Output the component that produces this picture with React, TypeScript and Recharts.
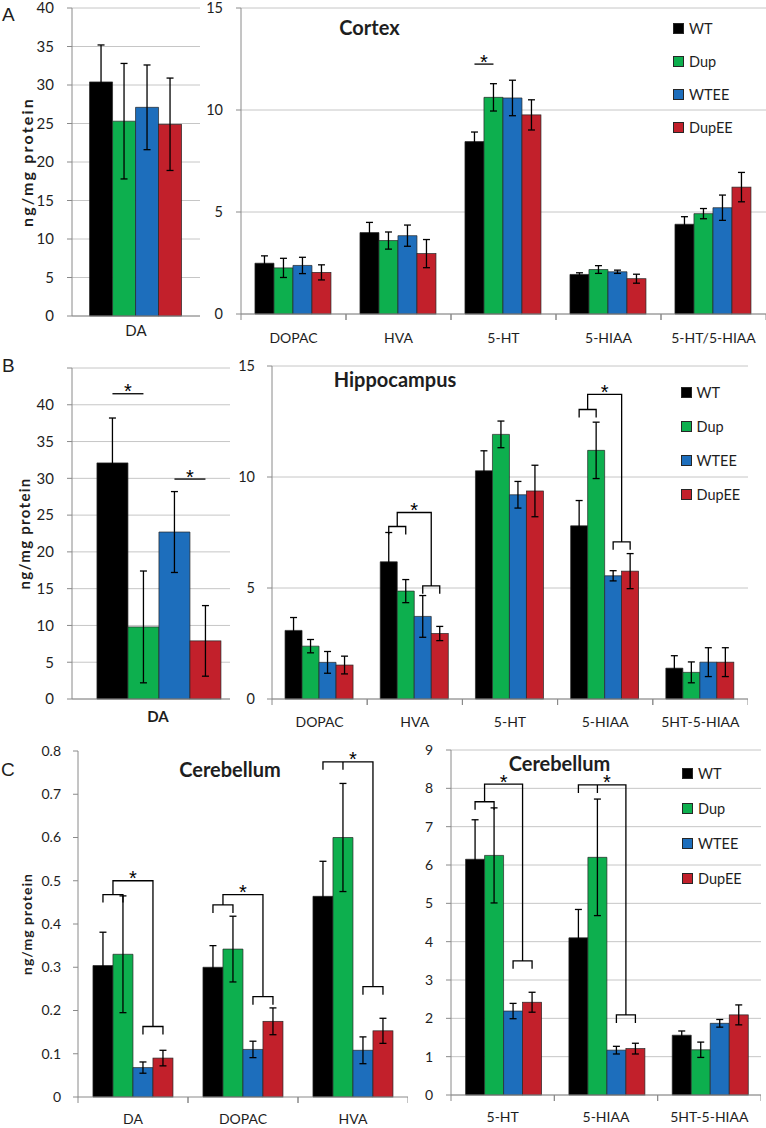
import React from "react";
import { BarChart, Bar, XAxis, YAxis, CartesianGrid, ErrorBar, Legend } from "recharts";

/* ---------------- series ---------------- */

const seriesNames = ["WT", "Dup", "WTEE", "DupEE"];
const seriesColors = ["#000000", "#0DAF4E", "#1D6EBC", "#C2202B"];

/* ---------------- A: cortex ---------------- */

const cortexDaCats = ["DA"];
const cortexDaMeans = [[30.4], [25.3], [27.1], [24.9]];
const cortexDaErrs = [[4.8], [7.5], [5.5], [6.0]];

const cortexCats = ["DOPAC", "HVA", "5-HT", "5-HIAA", "5-HT/5-HIAA"];
const cortexMeans = [
  [2.49, 3.99, 8.45, 1.94, 4.4],
  [2.26, 3.6, 10.62, 2.18, 4.92],
  [2.38, 3.84, 10.59, 2.07, 5.21],
  [2.04, 2.96, 9.76, 1.73, 6.22],
];
const cortexErrs = [
  [0.36, 0.5, 0.47, 0.08, 0.37],
  [0.47, 0.42, 0.67, 0.19, 0.25],
  [0.4, 0.52, 0.87, 0.08, 0.62],
  [0.37, 0.69, 0.74, 0.22, 0.72],
];
const cortexLines = [{ cat: "5-HT", from: 0, to: 1, y: 12.25 }];

/* ---------------- B: hippocampus ---------------- */

const hippoDaCats = ["DA"];
const hippoDaMeans = [[32.1], [9.8], [22.7], [7.9]];
const hippoDaErrs = [[6.1], [7.6], [5.5], [4.8]];
const hippoDaLines = [
  { cat: "DA", from: 0, to: 1, y: 41.5 },
  { cat: "DA", from: 2, to: 3, y: 29.9 },
];

const hippoCats = ["DOPAC", "HVA", "5-HT", "5-HIAA", "5HT-5-HIAA"];
const hippoMeans = [
  [3.09, 6.18, 10.28, 7.8, 1.39],
  [2.38, 4.86, 11.92, 11.2, 1.2],
  [1.65, 3.72, 9.2, 5.55, 1.66],
  [1.53, 2.95, 9.37, 5.76, 1.66],
];
const hippoErrs = [
  [0.58, 1.32, 0.9, 1.14, 0.56],
  [0.3, 0.52, 0.6, 1.27, 0.47],
  [0.49, 0.94, 0.6, 0.23, 0.65],
  [0.4, 0.32, 1.16, 0.79, 0.65],
];
const hippoBrackets = [
  { cat: "HVA", left: 7.77, top: 8.4, right: 5.1 },
  { cat: "5-HIAA", left: 13.04, top: 13.72, right: 7.08 },
];

/* ---------------- C: cerebellum ---------------- */

const cereCatsA = ["DA", "DOPAC", "HVA"];
const cereMeansA = [
  [0.304, 0.3, 0.464],
  [0.33, 0.342, 0.6],
  [0.068, 0.11, 0.108],
  [0.09, 0.175, 0.153],
];
const cereErrsA = [
  [0.077, 0.05, 0.081],
  [0.135, 0.076, 0.125],
  [0.013, 0.019, 0.031],
  [0.018, 0.031, 0.029],
];
const cereBracketsA = [
  { cat: "DA", left: 0.468, top: 0.5, right: 0.163 },
  { cat: "DOPAC", left: 0.444, top: 0.468, right: 0.232 },
  { cat: "HVA", left: 0.775, top: 0.775, right: 0.255 },
];

const cereCatsB = ["5-HT", "5-HIAA", "5HT-5-HIAA"];
const cereMeansB = [
  [6.15, 4.1, 1.56],
  [6.25, 6.2, 1.18],
  [2.19, 1.17, 1.87],
  [2.42, 1.21, 2.09],
];
const cereErrsB = [
  [1.03, 0.74, 0.11],
  [1.24, 1.52, 0.2],
  [0.2, 0.1, 0.1],
  [0.26, 0.14, 0.26],
];
const cereBracketsB = [
  { cat: "5-HT", left: 7.65, top: 8.11, right: 3.5 },
  { cat: "5-HIAA", left: 8.09, top: 8.09, right: 2.09 },
];

/* ---------------- tick lists ---------------- */

const ticks40 = [0, 5, 10, 15, 20, 25, 30, 35, 40];
const ticks45 = [0, 5, 10, 15, 20, 25, 30, 35, 40, 45];
const ticks15 = [0, 5, 10, 15];
const ticks08 = [0, 0.1, 0.2, 0.3, 0.4, 0.5, 0.6, 0.7, 0.8];
const ticks9 = [0, 1, 2, 3, 4, 5, 6, 7, 8, 9];

/* ---------------- styling ---------------- */

const FONT = "Lato, 'Open Sans', sans-serif";
const STAR_FONT = "'Liberation Sans', Arial, sans-serif";
const AXIS = "#8A8A8A";
const GRID = "#C6C6C6";
const TXT = "#1E1E1E";
const EDGE = "#262626";
const TICK_DROP = 8;

type Bracket = { cat: string; left: number; top: number; right: number };
type SigLine = { cat: string; from: number; to: number; y: number };

const buildRows = (cats: string[], means: number[][], errs: number[][]) =>
  cats.map((cat, i) => {
    const row: Record<string, any> = { cat };
    means.forEach((m, s) => {
      row[`s${s}`] = m[i];
      row[`e${s}`] = errs[s][i];
    });
    return row;
  });

const Star = ({ x, y }: { x: number; y: number }) => (
  <text x={x} y={y + 4.5} textAnchor="middle" fontSize={20} fontFamily={STAR_FONT} fill="#000" stroke="none">
    *
  </text>
);

// last series draws its own bar plus the significance marks of its category
const makeShape = (brackets: Bracket[] = [], lines: SigLine[] = []) => (props: any) => {
  const { x, y, width, height, fill, payload } = props;
  const v = payload.s3;
  const base = y + height;
  const k = height / v;
  const py = (val: number) => base - val * k;
  const cx = (i: number) => x - (3 - i) * width + width / 2;
  const marks: React.ReactNode[] = [];

  lines
    .filter((l) => l.cat === payload.cat)
    .forEach((l, j) => {
      const yy = py(l.y);
      const x1 = cx(l.from);
      const x2 = cx(l.to);
      marks.push(
        <g key={`l${j}`}>
          <line x1={x1} x2={x2} y1={yy} y2={yy} stroke="#000" strokeWidth={1.3} />
          <Star x={(x1 + x2) / 2} y={yy} />
        </g>
      );
    });

  brackets
    .filter((b) => b.cat === payload.cat)
    .forEach((b, j) => {
      const yl = py(b.left);
      const yr = py(b.right);
      const yt = py(b.top);
      const lm = (cx(0) + cx(1)) / 2;
      const rm = (cx(2) + cx(3)) / 2;
      const d = [
        `M${cx(0)},${yl + TICK_DROP} L${cx(0)},${yl} L${cx(1)},${yl} L${cx(1)},${yl + TICK_DROP}`,
        `M${cx(2)},${yr + TICK_DROP} L${cx(2)},${yr} L${cx(3)},${yr} L${cx(3)},${yr + TICK_DROP}`,
        `M${lm},${yl} L${lm},${yt} L${rm},${yt} L${rm},${yr}`,
      ].join(" ");
      marks.push(
        <g key={`b${j}`}>
          <path d={d} fill="none" stroke="#000" strokeWidth={1.3} />
          <Star x={(lm + rm) / 2} y={yt} />
        </g>
      );
    });

  return (
    <g>
      <rect x={x} y={y} width={width} height={height} fill={fill} stroke={EDGE} strokeWidth={0.7} />
      {marks}
    </g>
  );
};

const CatTick = (props: any) => {
  const { x, y, payload, tm, band, boundary, size, weight } = props;
  const ay = y - tm;
  return (
    <g>
      {boundary && (
        <>
          <line x1={x - band / 2} x2={x - band / 2} y1={ay} y2={ay + 6} stroke={AXIS} />
          <line x1={x + band / 2} x2={x + band / 2} y1={ay} y2={ay + 6} stroke={AXIS} />
        </>
      )}
      <text x={x} y={y} dy="0.71em" textAnchor="middle" fontSize={size} fontWeight={weight} fill={TXT}>
        {payload.value}
      </text>
    </g>
  );
};

const LegendBox = ({ row }: { row: number }) => (
  <div style={{ fontFamily: FONT, fontSize: 14.5, color: TXT }}>
    {seriesNames.map((n, i) => (
      <div key={n} style={{ display: "flex", alignItems: "center", height: row }}>
        <span
          style={{
            width: 9,
            height: 9,
            background: seriesColors[i],
            border: `1px solid ${EDGE}`,
            marginRight: 5,
          }}
        />
        <span>{n}</span>
      </div>
    ))}
  </div>
);

interface PanelProps {
  left: number;
  top: number;
  width: number;
  height: number;
  marginTop: number;
  yWidth: number;
  xHeight: number;
  cats: string[];
  means: number[][];
  errs: number[][];
  domain: [number, number];
  ticks: number[];
  tickFmt?: (v: number) => string;
  grid: boolean;
  gap: string;
  padLeft?: number;
  yTickMargin: number;
  xTickMargin: number;
  catSize: number;
  catWeight?: string;
  yFont: number;
  boundary?: boolean;
  yLabel?: { offset: number; size: number; spacing: number };
  brackets?: Bracket[];
  lines?: SigLine[];
  legend?: { left: number; top: number; row: number };
}

const Panel: React.FC<PanelProps> = (p) => {
  const rows = buildRows(p.cats, p.means, p.errs);
  const band = (p.width - p.yWidth - (p.padLeft ?? 0)) / p.cats.length;
  const shape = makeShape(p.brackets, p.lines);
  return (
    <div style={{ position: "absolute", left: p.left, top: p.top }}>
      <BarChart
        width={p.width}
        height={p.height}
        data={rows}
        margin={{ top: p.marginTop, right: 0, bottom: 0, left: 0 }}
        barGap={0}
        barCategoryGap={p.gap}
      >
        {p.grid && <CartesianGrid vertical={false} stroke={GRID} />}
        <XAxis
          dataKey="cat"
          interval={0}
          height={p.xHeight}
          tickLine={false}
          tickSize={0}
          tickMargin={p.xTickMargin}
          axisLine={{ stroke: AXIS }}
          padding={{ left: p.padLeft ?? 0, right: 0 }}
          tick={
            <CatTick
              tm={p.xTickMargin}
              band={band}
              boundary={!!p.boundary}
              size={p.catSize}
              weight={p.catWeight ?? "normal"}
            />
          }
        />
        <YAxis
          width={p.yWidth}
          domain={p.domain}
          ticks={p.ticks}
          interval={0}
          tickSize={5}
          tickMargin={p.yTickMargin}
          tickLine={{ stroke: AXIS }}
          axisLine={{ stroke: AXIS }}
          tick={{ fill: TXT, fontSize: p.yFont, fontFamily: FONT }}
          tickFormatter={p.tickFmt}
          label={
            p.yLabel
              ? {
                  value: "ng/mg protein",
                  angle: -90,
                  position: "insideLeft",
                  offset: p.yLabel.offset,
                  style: {
                    textAnchor: "middle",
                    fontSize: p.yLabel.size,
                    fontWeight: 700,
                    letterSpacing: p.yLabel.spacing,
                    fill: TXT,
                    fontFamily: FONT,
                  },
                }
              : undefined
          }
        />
        {seriesNames.map((n, i) => (
          <Bar
            key={n}
            dataKey={`s${i}`}
            name={n}
            fill={seriesColors[i]}
            stroke={EDGE}
            strokeWidth={0.7}
            isAnimationActive={false}
            {...(i === 3 ? { shape } : {})}
          >
            <ErrorBar dataKey={`e${i}`} width={3.5} stroke="#000" strokeWidth={1.3} direction="y" />
          </Bar>
        ))}
        {p.legend && (
          <Legend
            layout="vertical"
            align="center"
            verticalAlign="middle"
            content={() => <LegendBox row={p.legend!.row} />}
            wrapperStyle={{ left: p.legend.left, top: p.legend.top, width: "auto" }}
          />
        )}
      </BarChart>
    </div>
  );
};

const Caption: React.FC<{ x: number; y: number; text: string; center?: boolean; size?: number; bold?: boolean; family?: string }> = ({
  x,
  y,
  text,
  center,
  size = 20,
  bold,
  family = FONT,
}) => (
  <div
    style={{
      position: "absolute",
      left: center ? x - 150 : x,
      top: y,
      width: center ? 300 : "auto",
      textAlign: center ? "center" : "left",
      fontFamily: family,
      fontSize: size,
      fontWeight: bold ? 700 : 400,
      lineHeight: 1,
      color: TXT,
      whiteSpace: "nowrap",
    }}
  >
    {text}
  </div>
);

const fmt08 = (v: number) => (v === 0 ? "0" : v.toFixed(1));
const fmt45 = (v: number) => (v === 45 ? "" : String(v));

export default function App() {
  return (
    <div
      style={{
        position: "absolute",
        left: 0,
        top: 0,
        width: 766,
        height: 1128,
        background: "#fff",
        fontFamily: FONT,
        overflow: "hidden",
      }}
    >
      {/* A */}
      <Panel
        left={0}
        top={-6}
        width={200}
        height={351}
        marginTop={14}
        yWidth={72}
        xHeight={29}
        cats={cortexDaCats}
        means={cortexDaMeans}
        errs={cortexDaErrs}
        domain={[0, 40]}
        ticks={ticks40}
        grid
        gap="13.7%"
        yTickMargin={13}
        xTickMargin={9}
        catSize={15}
        yFont={15}
        yLabel={{ offset: 27, size: 16, spacing: 2.2 }}
      />
      <Panel
        left={190}
        top={-6}
        width={576}
        height={356}
        marginTop={14}
        yWidth={51}
        xHeight={36}
        cats={cortexCats}
        means={cortexMeans}
        errs={cortexErrs}
        domain={[0, 15]}
        ticks={ticks15}
        grid
        gap="13.3%"
        yTickMargin={13}
        xTickMargin={19}
        catSize={14}
        yFont={14.5}
        boundary
        lines={cortexLines}
        legend={{ left: 483, top: 17.5, row: 33 }}
      />

      {/* B */}
      <Panel
        left={0}
        top={354}
        width={230}
        height={376}
        marginTop={14}
        yWidth={72}
        xHeight={31}
        cats={hippoDaCats}
        means={hippoDaMeans}
        errs={hippoDaErrs}
        domain={[0, 45]}
        ticks={ticks45}
        tickFmt={fmt45}
        grid
        gap="7.6%"
        padLeft={14}
        yTickMargin={13}
        xTickMargin={12}
        catSize={15}
        catWeight="bold"
        yFont={15}
        yLabel={{ offset: 25, size: 15, spacing: 1.3 }}
        lines={hippoDaLines}
      />
      <Panel
        left={230}
        top={352}
        width={518}
        height={386}
        marginTop={14}
        yWidth={42}
        xHeight={39}
        cats={hippoCats}
        means={hippoMeans}
        errs={hippoErrs}
        domain={[0, 15]}
        ticks={ticks15}
        grid
        gap="13.7%"
        yTickMargin={12}
        xTickMargin={18}
        catSize={14}
        yFont={14.5}
        boundary
        brackets={hippoBrackets}
        legend={{ left: 450.5, top: 23, row: 34 }}
      />

      {/* C */}
      <Panel
        left={0}
        top={740}
        width={408}
        height={388}
        marginTop={11}
        yWidth={78}
        xHeight={31}
        cats={cereCatsA}
        means={cereMeansA}
        errs={cereErrsA}
        domain={[0, 0.8]}
        ticks={ticks08}
        tickFmt={fmt08}
        grid={false}
        gap="13.6%"
        yTickMargin={12}
        xTickMargin={17}
        catSize={14}
        yFont={14}
        boundary
        yLabel={{ offset: 27, size: 14, spacing: 1 }}
        brackets={cereBracketsA}
      />
      <Panel
        left={408}
        top={740}
        width={353}
        height={388}
        marginTop={10}
        yWidth={43}
        xHeight={33}
        cats={cereCatsB}
        means={cereMeansB}
        errs={cereErrsB}
        domain={[0, 9]}
        ticks={ticks9}
        grid
        gap="14.1%"
        yTickMargin={13}
        xTickMargin={17}
        catSize={14}
        yFont={14}
        boundary
        brackets={cereBracketsB}
        legend={{ left: 274, top: 15.5, row: 35 }}
      />

      {/* titles and panel letters */}
      <Caption x={369.5} y={17} text="Cortex" center bold />
      <Caption x={395} y={369} text="Hippocampus" center bold />
      <Caption x={230} y={759} text="Cerebellum" center bold />
      <Caption x={559.5} y={753} text="Cerebellum" center bold />
      <Caption x={2} y={5} text="A" size={19} family="'Liberation Sans', Arial, sans-serif" />
      <Caption x={2} y={356} text="B" size={19} family="'Liberation Sans', Arial, sans-serif" />
      <Caption x={1} y={760} text="C" size={19} family="'Liberation Sans', Arial, sans-serif" />
    </div>
  );
}
